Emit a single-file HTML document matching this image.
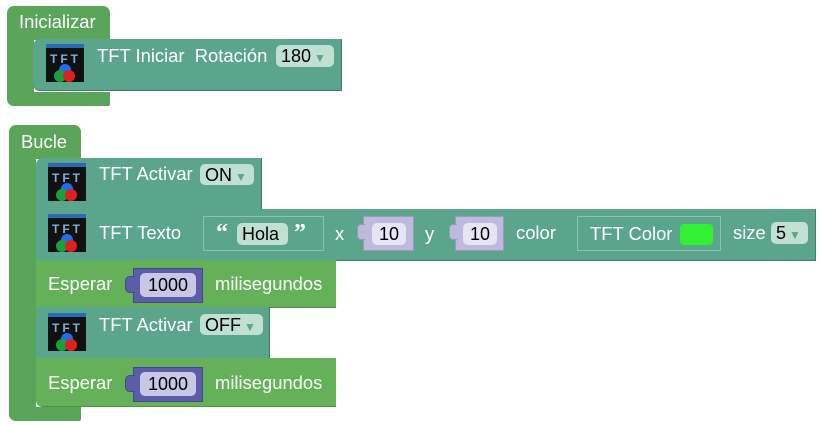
<!DOCTYPE html>
<html><head><meta charset="utf-8"><style>
body{margin:0;width:821px;height:425px;background:#fff;position:relative;overflow:hidden;font-family:"Liberation Sans",sans-serif;}
div{position:absolute;box-sizing:border-box;}
.g{background:#5ba55b;}
.e{background:#64b15a;border-bottom:1px solid #4f8f48;}
.t{background:#5ba58c;border-bottom:1px solid #3f7f69;border-right:1px solid #3f7f69;}
.lbl{color:#fff;font-size:18.4px;white-space:nowrap;line-height:22px;}
.dd{background:#bfe0d3;border-radius:5px;color:#000;font-size:18px;line-height:22px;padding-left:5px;white-space:nowrap;}
.dd span{color:#5ba58c;font-size:12px;margin-left:3px;}
.ic{width:38px;height:38px;background:#111;border-top:4px solid #2a6bb5;}
.ic b{position:absolute;left:4px;top:4px;color:#7fb0d8;font-size:12px;letter-spacing:3px;font-weight:bold;}
.ic i{position:absolute;width:12px;height:12px;border-radius:50%;}
.num{background:#5b5ea6;border:1px solid #454890;}
.fld{background:#c9c7e6;border-radius:5px;color:#000;font-size:18px;line-height:24px;text-align:center;}
.lp{background:#bdbadb;border:1px solid #9a97c0;}
.fl2{background:#e6e4f5;border-radius:5px;color:#000;font-size:18px;line-height:22px;text-align:center;}
.ins{border:1px solid #8bc4ae;background:#5ba58c;}
</style></head><body>
<!-- Inicializar -->
<div class="g" style="left:7px;top:6px;width:103px;height:34px;border-radius:7px 7px 0 0;"></div>
<div class="g" style="left:7px;top:38px;width:27px;height:68px;border-radius:0 0 0 7px;"></div>
<div class="g" style="left:7px;top:92px;width:103px;height:14px;border-radius:0 0 2px 7px;"></div>
<div class="lbl" style="left:19px;top:11px;">Inicializar</div>
<div class="t" style="left:33px;top:39px;width:309px;height:52px;border-radius:7px 0 0 7px;"></div>
<div class="ic" style="left:46px;top:44px;"><b>TFT</b><i style="left:13px;top:16px;background:#1e6ef0"></i><i style="left:8px;top:22px;background:#19a03c"></i><i style="left:17px;top:22px;background:#e02020"></i></div>
<div class="lbl" style="left:97px;top:45px;">TFT Iniciar&nbsp; Rotación</div>
<div class="dd" style="left:276px;top:45px;width:58px;height:22px;">180<span>▼</span></div>

<!-- Bucle -->
<div class="g" style="left:9px;top:125px;width:72px;height:34px;border-radius:7px 7px 0 0;"></div>
<div class="g" style="left:9px;top:158px;width:27px;height:263px;border-radius:0 0 0 7px;"></div>
<div class="g" style="left:9px;top:407px;width:72px;height:14px;border-radius:0 0 2px 7px;"></div>
<div class="lbl" style="left:21px;top:131px;">Bucle</div>

<!-- TFT Activar ON -->
<div class="t" style="left:36px;top:158px;width:226px;height:52px;border-radius:7px 0 0 0;"></div>
<div class="ic" style="left:48px;top:163px;"><b>TFT</b><i style="left:13px;top:16px;background:#1e6ef0"></i><i style="left:8px;top:22px;background:#19a03c"></i><i style="left:17px;top:22px;background:#e02020"></i></div>
<div class="lbl" style="left:99px;top:163px;">TFT Activar</div>
<div class="dd" style="left:200px;top:164px;width:54px;height:21px;">ON<span>▼</span></div>

<!-- TFT Texto -->
<div class="t" style="left:36px;top:209px;width:780px;height:52px;"></div>
<div class="ic" style="left:48px;top:214px;"><b>TFT</b><i style="left:13px;top:16px;background:#1e6ef0"></i><i style="left:8px;top:22px;background:#19a03c"></i><i style="left:17px;top:22px;background:#e02020"></i></div>
<div class="lbl" style="left:99px;top:222px;">TFT Texto</div>
<div class="ins" style="left:203px;top:216px;width:121px;height:35px;"></div>
<div class="lbl" style="left:216px;top:222px;font-weight:bold;font-family:'Liberation Serif',serif;font-size:24px;">“</div>
<div class="dd" style="left:237px;top:223px;width:51px;height:22px;">Hola</div>
<div class="lbl" style="left:294px;top:222px;font-weight:bold;font-family:'Liberation Serif',serif;font-size:24px;">”</div>
<div class="lbl" style="left:335px;top:223px;">x</div>
<div class="lp" style="left:363px;top:216px;width:51px;height:35px;"></div>
<div class="lp" style="left:357px;top:224px;width:8px;height:16px;border-radius:4px 0 0 4px;border-right:none;"></div>
<div class="fl2" style="left:372px;top:223px;width:34px;height:22px;">10</div>
<div class="lbl" style="left:425px;top:223px;">y</div>
<div class="lp" style="left:455px;top:216px;width:49px;height:35px;"></div>
<div class="lp" style="left:449px;top:224px;width:8px;height:16px;border-radius:4px 0 0 4px;border-right:none;"></div>
<div class="fl2" style="left:463px;top:223px;width:34px;height:22px;">10</div>
<div class="lbl" style="left:516px;top:222px;">color</div>
<div class="ins" style="left:577px;top:216px;width:144px;height:35px;"></div>
<div class="lbl" style="left:590px;top:223px;">TFT Color</div>
<div style="left:680px;top:224px;width:33px;height:21px;background:#33f033;border-radius:4px;"></div>
<div class="lbl" style="left:733px;top:222px;">size</div>
<div class="dd" style="left:771px;top:222px;width:37px;height:22px;">5<span>▼</span></div>

<!-- Esperar 1 -->
<div class="e" style="left:36px;top:260px;width:300px;height:48px;"></div>
<div class="lbl" style="left:48px;top:273px;">Esperar</div>
<div class="num" style="left:133px;top:268px;width:70px;height:35px;"></div>
<div class="num" style="left:125px;top:276px;width:10px;height:17px;border-radius:5px 0 0 5px;border-right:none;"></div>
<div class="fld" style="left:140px;top:273px;width:56px;height:24px;">1000</div>
<div class="lbl" style="left:215px;top:273px;">milisegundos</div>

<!-- TFT Activar OFF -->
<div class="t" style="left:36px;top:307px;width:234px;height:52px;"></div>
<div class="ic" style="left:48px;top:313px;"><b>TFT</b><i style="left:13px;top:16px;background:#1e6ef0"></i><i style="left:8px;top:22px;background:#19a03c"></i><i style="left:17px;top:22px;background:#e02020"></i></div>
<div class="lbl" style="left:99px;top:314px;">TFT Activar</div>
<div class="dd" style="left:200px;top:314px;width:63px;height:21px;">OFF<span>▼</span></div>

<!-- Esperar 2 -->
<div class="e" style="left:36px;top:358px;width:300px;height:49px;border-radius:0 0 0 7px;"></div>
<div class="lbl" style="left:48px;top:372px;">Esperar</div>
<div class="num" style="left:133px;top:367px;width:70px;height:35px;"></div>
<div class="num" style="left:125px;top:375px;width:10px;height:17px;border-radius:5px 0 0 5px;border-right:none;"></div>
<div class="fld" style="left:140px;top:372px;width:56px;height:24px;">1000</div>
<div class="lbl" style="left:215px;top:372px;">milisegundos</div>
</body></html>
